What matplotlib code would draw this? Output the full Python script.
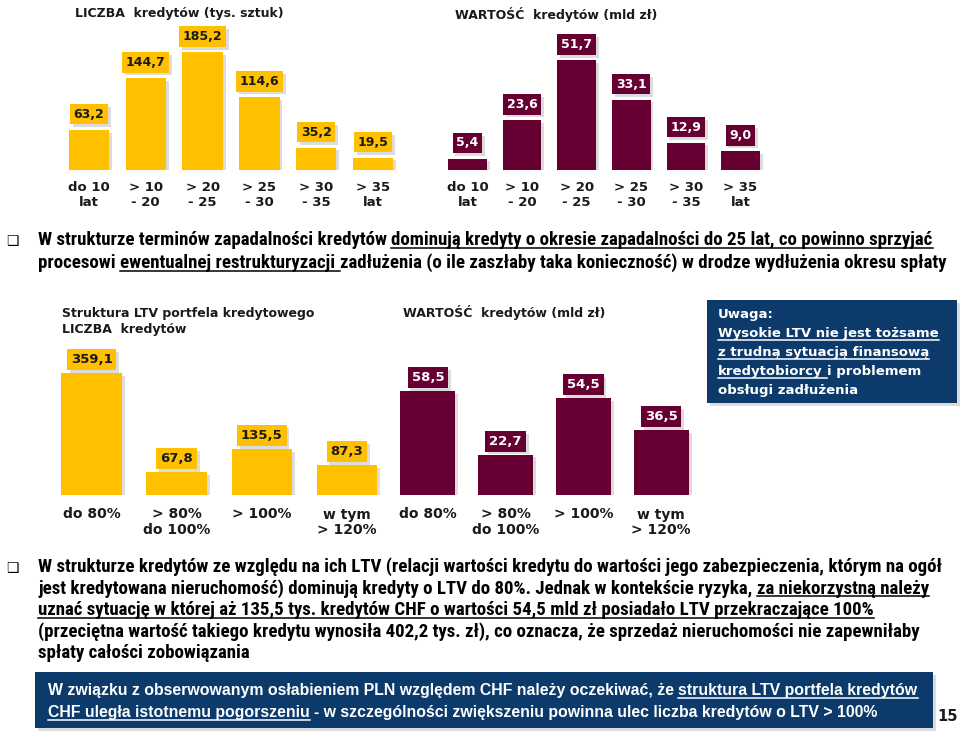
import matplotlib

matplotlib.use("Agg")
import matplotlib.patheffects as pe
import matplotlib.pyplot as plt
from matplotlib import font_manager
from matplotlib.lines import Line2D
from matplotlib.patches import Rectangle
from matplotlib.transforms import IdentityTransform

W, H = 960, 731

# --- data ---
term_cats = ["do 10\nlat", "> 10\n- 20", "> 20\n- 25", "> 25\n- 30", "> 30\n- 35", "> 35\nlat"]
term_count = [63.2, 144.7, 185.2, 114.6, 35.2, 19.5]
term_value = [5.4, 23.6, 51.7, 33.1, 12.9, 9.0]

ltv_cats = ["do 80%", "> 80%\ndo 100%", "> 100%", "w tym\n> 120%"]
ltv_count = [359.1, 67.8, 135.5, 87.3]
ltv_value = [58.5, 22.7, 54.5, 36.5]

bullet1 = [
    [("W strukturze terminów zapadalności kredytów ", False),
     ("dominują kredyty o okresie zapadalności do 25 lat, co powinno sprzyjać", True)],
    [("procesowi ", False), ("ewentualnej restrukturyzacji ", True),
     ("zadłużenia (o ile zaszłaby taka konieczność) w drodze wydłużenia okresu spłaty", False)],
]
bullet2 = [
    [("W strukturze kredytów ze względu na ich LTV (relacji wartości kredytu do wartości jego "
      "zabezpieczenia, którym na ogół", False)],
    [("jest kredytowana nieruchomość) dominują kredyty o LTV do 80%. Jednak w kontekście ryzyka, ", False),
     ("za niekorzystną należy", True)],
    [("uznać sytuację w której aż 135,5 tys. kredytów CHF o wartości 54,5 mld zł posiadało LTV "
      "przekraczające 100%", True)],
    [("(przeciętna wartość takiego kredytu wynosiła 402,2 tys. zł), co oznacza, że sprzedaż "
      "nieruchomości nie zapewniłaby", False)],
    [("spłaty całości zobowiązania", False)],
]
note_lines = [
    [("Uwaga:", False)],
    [("Wysokie LTV nie jest tożsame", True)],
    [("z trudną sytuacją finansową", True)],
    [("kredytobiorcy ", True), ("i problemem", False)],
    [("obsługi zadłużenia", False)],
]
footer_lines = [
    [("W związku z obserwowanym osłabieniem PLN względem CHF należy oczekiwać, że ", False),
     ("struktura LTV portfela kredytów", True)],
    [("CHF uległa istotnemu pogorszeniu", True),
     (" - w szczególności zwiększeniu powinna ulec liczba kredytów o LTV > 100%", False)],
]

YELLOW = "#FFC000"
MAROON = "#660033"
NAVY = "#0C3A6B"
SHADOW = [pe.SimplePatchShadow(offset=(2, -2), shadow_rgbFace="#777777", alpha=0.25), pe.Normal()]

names = {f.name for f in font_manager.fontManager.ttflist}
BODY = next((n for n in ["Liberation Sans Narrow", "Roboto Condensed", "Open Sans Condensed"] if n in names),
            "Liberation Sans")

fig = plt.figure(figsize=(W / 100, H / 100), dpi=100)
renderer = fig.canvas.get_renderer()
ID = IdentityTransform()


def ptext(x, y, s, **kw):
    return fig.text(x, H - y, s, transform=ID, **kw)


def text_width(s, size, family, weight="bold"):
    t = ptext(0, 0, s, fontsize=size, family=family, fontweight=weight)
    w = t.get_window_extent(renderer).width
    t.remove()
    return w


def rich_lines(x0, y0, dy, lines, family, target, ref=0, color="black", weight="bold"):
    # font size chosen so that line `ref` spans `target` pixels
    ref_text = "".join(s for s, _ in lines[ref]).strip()
    size = 10 * target / text_width(ref_text, 10, family, weight)
    sw = text_width("a a", size, family, weight) - text_width("aa", size, family, weight)
    for k, parts in enumerate(lines):
        x = x0
        y = y0 + k * dy
        for s, ul in parts:
            core = s.strip()
            lead = len(s) - len(s.lstrip())
            trail = len(s) - len(s.rstrip())
            x += lead * sw
            t = ptext(x, y, core, fontsize=size, family=family, fontweight=weight, color=color,
                      va="baseline", ha="left")
            bb = t.get_window_extent(renderer)
            end = bb.x1 + trail * sw
            if ul:
                fig.add_artist(Line2D([x, end], [H - y - 2.5, H - y - 2.5],
                                      transform=ID, color=color, lw=1.1))
            x = end
    return size


def bar_panel(box, cats, values, px_per_unit, color, label_color, fs_val, fs_cat, gap, cat_pad):
    x0, x1, y_top, y_base = box
    ax = fig.add_axes([x0 / W, 1 - y_base / H, (x1 - x0) / W, (y_base - y_top) / H])
    n = len(values)
    ax.set_xlim(-0.5, n - 0.5)
    ax.set_ylim(0, (y_base - y_top) / px_per_unit)
    bars = ax.bar(range(n), values, width=0.71, color=color, zorder=2)
    for b in bars:
        b.set_path_effects(SHADOW)
    for i, v in enumerate(values):
        t = ax.annotate(f"{v:.1f}".replace(".", ","), (i, v), xytext=(0, gap), textcoords="offset points",
                        ha="center", va="bottom", fontsize=fs_val, fontweight="bold", color=label_color,
                        family="DejaVu Sans",
                        bbox=dict(boxstyle="square,pad=0.3", fc=color, ec="none"))
        t.get_bbox_patch().set_path_effects(SHADOW)
    ax.set_xticks(range(n), cats)
    ax.tick_params(length=0, pad=cat_pad)
    for lab in ax.get_xticklabels():
        lab.set_fontweight("bold")
        lab.set_fontsize(fs_cat)
        lab.set_linespacing(1.15)
        lab.set_color("#1a1a1a")
    ax.set_yticks([])
    for s in ax.spines.values():
        s.set_visible(False)
    ax.patch.set_visible(False)
    return ax


# top charts: maturity structure
bar_panel((60.6, 401.4, 20, 170), term_cats, term_count, 118 / 185.2, YELLOW, "#1a1a1a", 9, 9.5, 6.5, 8)
bar_panel((440.2, 767.8, 20, 170), term_cats, term_value, 110 / 51.7, MAROON, "white", 9, 9.5, 6.5, 8)
ptext(75, 14, "LICZBA  kredytów (tys. sztuk)", fontsize=9, fontweight="bold", va="center", color="#1a1a1a")
ptext(455, 14, "WARTOŚĆ  kredytów (mld zł)", fontsize=9, fontweight="bold", va="center", color="#1a1a1a")

# middle charts: LTV structure
bar_panel((49, 389.6, 340, 495), ltv_cats, ltv_count, 122 / 359.1, YELLOW, "#1a1a1a", 9.5, 10, 5, 9)
bar_panel((389, 700, 340, 495), ltv_cats, ltv_value, 104 / 58.5, MAROON, "white", 9.5, 10, 5, 9)
ptext(62, 313, "Struktura LTV portfela kredytowego", fontsize=9, fontweight="bold", va="center", color="#1a1a1a")
ptext(62, 330, "LICZBA  kredytów", fontsize=9, fontweight="bold", va="center", color="#1a1a1a")
ptext(403, 313, "WARTOŚĆ  kredytów (mld zł)", fontsize=9, fontweight="bold", va="center", color="#1a1a1a")

# bullets
for yb in (245, 572):
    ptext(6, yb, "❑", fontsize=10, family="DejaVu Sans", va="baseline")
rich_lines(38, 245, 23, bullet1, BODY, 897)
rich_lines(38, 572, 21.5, bullet2, BODY, 902)

# note box
fig.add_artist(Rectangle((707, H - 403), 250, 103, transform=ID, fc=NAVY, ec="none", path_effects=SHADOW))
rich_lines(718, 318, 19, note_lines, "DejaVu Sans", 221, ref=1, color="white")

# footer box
fig.add_artist(Rectangle((35, H - 728), 898, 56, transform=ID, fc=NAVY, ec="none", path_effects=SHADOW))
rich_lines(48, 695, 22, footer_lines, "Liberation Sans", 869, color="white")
ptext(937, 721, "15", fontsize=10.5, fontweight="bold", va="baseline", color="#1a1a1a")

fig.savefig("out.png", dpi=100, facecolor="white")
